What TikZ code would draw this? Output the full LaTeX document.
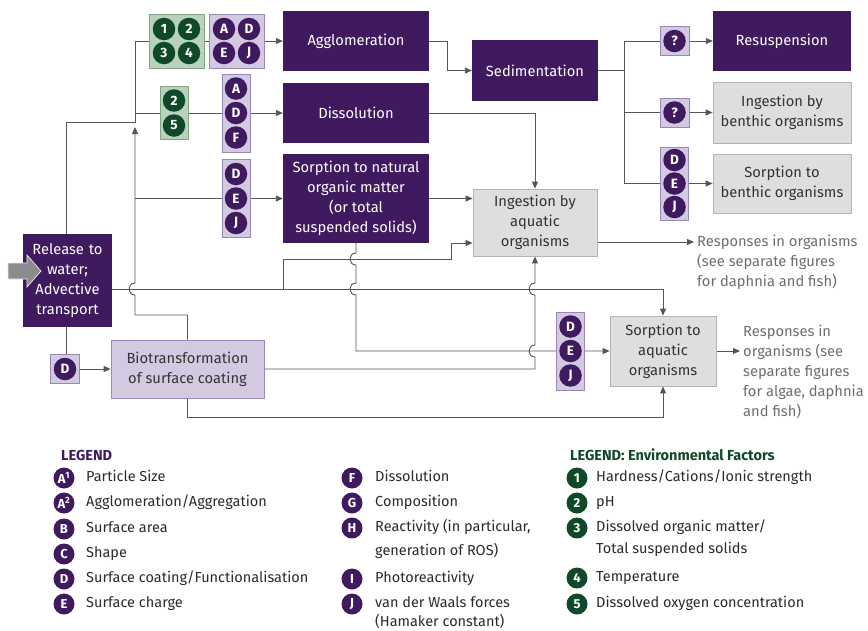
\documentclass[tikz,border=0pt]{standalone}
\usepackage{fontspec}
\setmainfont{Fira Sans}
\usetikzlibrary{arrows.meta}

\definecolor{dpurple}{HTML}{3F1A5E}
\definecolor{lpurple}{HTML}{D3CAE2}
\definecolor{lpurpleedge}{HTML}{9A87B8}
\definecolor{dgreen}{HTML}{10492A}
\definecolor{lgreen}{HTML}{B8D2BC}
\definecolor{lgreenedge}{HTML}{7FA585}
\definecolor{boxgray}{HTML}{DEDEDE}
\definecolor{boxedge}{HTML}{B4B4B4}
\definecolor{boxtext}{HTML}{333333}
\definecolor{linegray}{HTML}{555555}
\definecolor{respgray}{HTML}{6E6E6E}
\definecolor{legtext}{HTML}{2B2B2B}
\definecolor{feedgray}{HTML}{8C8C8C}

\newcommand\bxfont{\fontsize{14.7}{20}\selectfont}
\newcommand\bdgfont{\fontsize{13.5}{14}\selectfont\bfseries}
\newcommand\lbdgfont{\fontsize{13}{14}\selectfont\bfseries}
\newcommand\lgfont{\fontsize{14.5}{16}\selectfont}

\pgfdeclarelayer{base}
\pgfdeclarelayer{wires}
\pgfsetlayers{base,wires,main}

\tikzset{
  conn/.style={draw=linegray, line width=0.9pt},
  arr/.style={-{Triangle[length=7pt,width=6pt]}},
  pbox/.style={rectangle, fill=dpurple, text=white, align=center, inner sep=0pt, font=\bxfont},
  gbox/.style={rectangle, fill=boxgray, draw=boxedge, line width=0.8pt, text=boxtext, align=center, inner sep=0pt, font=\bxfont},
  lbox/.style={rectangle, fill=lpurple, draw=lpurpleedge, line width=0.8pt, text=boxtext, align=center, inner sep=0pt, font=\bxfont},
  pbg/.style={rectangle, fill=lpurple, draw=lpurpleedge, line width=0.8pt, inner sep=0pt},
  gbg/.style={rectangle, fill=lgreen, draw=lgreenedge, line width=0.8pt, inner sep=0pt},
  pc/.style={circle, fill=dpurple, text=white, minimum size=22.5pt, inner sep=0pt, font=\bdgfont},
  gc/.style={circle, fill=dgreen, text=white, minimum size=22.5pt, inner sep=0pt, font=\bdgfont},
  lpc/.style={pc, minimum size=21pt, font=\lbdgfont},
  lgc/.style={gc, minimum size=21pt, font=\lbdgfont},
  ltext/.style={anchor=west, inner sep=0pt, font=\lgfont, text=legtext, text height=10.5pt, text depth=3pt},
  resptext/.style={anchor=west, inner sep=0pt, align=left, font=\bxfont, text=respgray},
}

\begin{document}
\begin{tikzpicture}[x=1pt, y=-1pt]
\useasboundingbox (0,0) rectangle (868,630);
\begin{pgfonlayer}{base}
  \fill[white] (0,0) rectangle (868,630);
\end{pgfonlayer}

% ---------- process boxes ----------
\node[pbox, minimum width=89pt, minimum height=93pt, text width=89pt, xshift=1.5pt] (rel) at (66,280.5) {Release to\\water;\\Advective\\transport};
\node[pbox, minimum width=146pt, minimum height=60pt] (agg) at (356,41) {Agglomeration};
\node[pbox, minimum width=146pt, minimum height=60pt] (dis) at (356,113) {Dissolution};
\node[pbox, minimum width=146pt, minimum height=89pt] (snom) at (356,198.5) {Sorption to natural\\organic matter\\(or total\\suspended solids)};
\node[pbox, minimum width=126pt, minimum height=61pt] (sed) at (535,70.5) {Sedimentation};
\node[pbox, minimum width=138pt, minimum height=60pt] (res) at (782,41) {Resuspension};

\node[gbox, minimum width=124pt, minimum height=67pt] (ingaq) at (535,222.5) {Ingestion by\\aquatic\\organisms};
\node[gbox, minimum width=138pt, minimum height=61pt] (ingben) at (782,112.5) {Ingestion by\\benthic organisms};
\node[gbox, minimum width=138pt, minimum height=59pt] (sorben) at (782,183.5) {Sorption to\\benthic organisms};
\node[gbox, minimum width=106pt, minimum height=70pt] (soraq) at (663,351) {Sorption to\\aquatic\\organisms};

\node[lbox, minimum width=153pt, minimum height=58pt] (bio) at (187.5,369) {Biotransformation\\of surface coating};

% feed arrow into the release box
\draw[fill=feedgray, draw=white!85!gray, line width=0.7pt]
  (8,263) -- (27,263) -- (27,255) -- (41,271) -- (27,287) -- (27,279) -- (8,279) -- cycle;

% ---------- factor badges ----------
\node[gbg, minimum width=55pt, minimum height=54pt] (gA) at (176.5,41) {};
\node[gc] (gA1) at (164,29) {1};
\node[gc] (gA2) at (189,29) {2};
\node[gc] (gA3) at (164,53) {3};
\node[gc] (gA4) at (189,53) {4};

\node[pbg, minimum width=55pt, minimum height=54pt] (pA) at (236.5,41) {};
\node[pc] (pA1) at (224,29) {A};
\node[pc] (pA2) at (249,29) {D};
\node[pc] (pA3) at (224,53) {E};
\node[pc] (pA4) at (249,53) {J};

\node[gbg, minimum width=28pt, minimum height=53pt] (gB) at (174,113) {};
\node[gc] (gB1) at (174,100.5) {2};
\node[gc] (gB2) at (174,125.5) {5};

\node[pbg, minimum width=28pt, minimum height=78pt] (pB) at (236,113) {};
\node[pc] (pB1) at (236,88.5) {A};
\node[pc] (pB2) at (236,113) {D};
\node[pc] (pB3) at (236,137.5) {F};

\node[pbg, minimum width=28pt, minimum height=78pt] (pC) at (236,198.5) {};
\node[pc] (pC1) at (236,174) {D};
\node[pc] (pC2) at (236,198.5) {E};
\node[pc] (pC3) at (236,223) {J};

\node[pbg, minimum width=29pt, minimum height=29pt] (q1) at (674.5,41) {};
\node[pc] (q1c) at (674.5,41) {?};
\node[pbg, minimum width=29pt, minimum height=29pt] (q2) at (674.5,112.5) {};
\node[pc] (q2c) at (674.5,112.5) {?};

\node[pbg, minimum width=28pt, minimum height=73pt] (pD) at (674.5,183.5) {};
\node[pc] (pD1) at (674.5,160) {D};
\node[pc] (pD2) at (674.5,183.5) {E};
\node[pc] (pD3) at (674.5,207) {J};

\node[pbg, minimum width=28pt, minimum height=78pt] (pE) at (570.5,351) {};
\node[pc] (pE1) at (570.5,326.5) {D};
\node[pc] (pE2) at (570.5,351) {E};
\node[pc] (pE3) at (570.5,375.5) {J};

\node[pbg, minimum width=29pt, minimum height=29pt] (pF) at (65,369) {};
\node[pc] (pF1) at (65,369) {D};

% ---------- response notes ----------
\node[resptext] (resp1) at (697,262) {Responses in organisms\\(see separate figures\\for daphnia and fish)};
\node[resptext] (resp2) at (743,372) {Responses in\\organisms (see\\separate figures\\for algae, daphnia\\and fish)};
\coordinate (e1) at (694,242);
\coordinate (e2) at (740,351);

% ---------- junction points ----------
\coordinate (j1) at (135,122);
\coordinate (j2) at (135,113);
\coordinate (j3) at (135,315);
\coordinate (j4) at (135,198.5);
\coordinate (r0) at (112,289);
\coordinate (b1) at (283,289);
\coordinate (b2) at (451,259);
\coordinate (s0) at (624,70.5);
\coordinate (bb) at (187.5,417);
\coordinate (rt) at (66,234);
\coordinate (rb) at (66,327);

% ---------- connectors ----------
\begin{pgfonlayer}{wires}
  % release -> agglomeration / dissolution
  \draw[conn, arr] (rt) |- (j1) |- (agg.west);
  \draw[conn, arr] (j2) -- (dis.west);
  % biotransformation -> back into the water column, and to sorption to NOM
  \draw[conn, arr] (bio.north) |- (j3) -- (135,295)
    .. controls (127,295) and (127,283) .. (135,283) -- (135,127);
  \draw[conn, arr] (j4) -- (snom.west);
  % release -> sorption to aquatic organisms, and ingestion by aquatic organisms
  \draw[conn, arr] (r0) -| (soraq.north);
  \draw[conn, arr] (b1) |- (b2) |- ([yshift=-20.5pt]ingaq.west);
  % release -> surface coating -> biotransformation
  \draw[conn] (rb) -- (rb |- pF.north);
  \draw[conn, arr] (pF.east) -- (bio.west);
  % agglomeration -> sedimentation
  \draw[conn, arr] (agg.east) -- ++(18,0) |- (sed.west);
  % dissolution / sorption to NOM -> ingestion by aquatic organisms
  \draw[conn, arr] (dis.east) -| (ingaq.north);
  \draw[conn, arr] (snom.east) -- (snom.east -| ingaq.west);
  % sedimentation -> benthic fates
  \draw[conn] (sed.east) -- (s0);
  \draw[conn, arr] (s0) |- (res.west);
  \draw[conn, arr] (s0) |- (ingben.west);
  \draw[conn, arr] (s0) |- (sorben.west);
  % sorption to NOM -> sorption to aquatic organisms
  \draw[conn, arr] (snom.south) -- (356,253)
    .. controls (348,253) and (348,265) .. (356,265) -- (356,283)
    .. controls (348,283) and (348,295) .. (356,295) -- (356,351) -- (soraq.west);
  % biotransformation -> ingestion by aquatic organisms
  \draw[conn, arr] (bio.east) -- (535,369) -- (535,357)
    .. controls (527,357) and (527,345) .. (535,345) -- (535,295)
    .. controls (527,295) and (527,283) .. (535,283) -- (ingaq.south);
  % biotransformation -> sorption to aquatic organisms
  \draw[conn, arr] (bio.south) -- (bb) -| (soraq.south);
  % organisms -> responses
  \draw[conn, arr] ([yshift=-19.5pt]ingaq.east) -- (e1);
  \draw[conn, arr] (soraq.east) -- (e2);
\end{pgfonlayer}

% ---------- legend: nanomaterial properties ----------
\node[anchor=west, inner sep=0pt, font=\fontsize{14.5}{16}\selectfont\bfseries, text=dpurple] (leg1) at (61,455) {LEGEND};
\node[lpc] (lA1) at (64,478) {A\textsuperscript{1}};
\node[ltext] (tA1) at (86,478) {Particle Size};
\node[lpc] (lA2) at (64,503) {A\textsuperscript{2}};
\node[ltext] (tA2) at (86,503) {Agglomeration/Aggregation};
\node[lpc] (lB) at (64,529) {B};
\node[ltext] (tB) at (86,529) {Surface area};
\node[lpc] (lC) at (64,554) {C};
\node[ltext] (tC) at (86,554) {Shape};
\node[lpc] (lD) at (64,579) {D};
\node[ltext] (tD) at (86,579) {Surface coating/Functionalisation};
\node[lpc] (lE) at (64,604) {E};
\node[ltext] (tE) at (86,604) {Surface charge};

\node[lpc] (lF) at (352,478) {F};
\node[ltext] (tF) at (375,478) {Dissolution};
\node[lpc] (lG) at (352,503) {G};
\node[ltext] (tG) at (375,503) {Composition};
\node[lpc] (lH) at (352,528) {H};
\node[ltext] (tH) at (375,528) {Reactivity (in particular,};
\node[ltext] (tH2) at (375,552) {generation of ROS)};
\node[lpc] (lI) at (352,579) {I};
\node[ltext] (tI) at (375,579) {Photoreactivity};
\node[lpc] (lJ) at (352,604) {J};
\node[ltext] (tJ) at (375,604) {van der Waals forces};
\node[ltext] (tJ2) at (375,623) {(Hamaker constant)};

% ---------- legend: environmental factors ----------
\node[anchor=west, inner sep=0pt, font=\fontsize{14.5}{16}\selectfont\bfseries, text=dgreen] (leg2) at (570,455) {LEGEND: Environmental Factors};
\node[lgc] (l1) at (577,478) {1};
\node[ltext] (t1) at (596,478) {Hardness/Cations/Ionic strength};
\node[lgc] (l2) at (577,503) {2};
\node[ltext] (t2) at (596,503) {pH};
\node[lgc] (l3) at (577,528) {3};
\node[ltext] (t3) at (596,528) {Dissolved organic matter/};
\node[ltext] (t3b) at (596,550) {Total suspended solids};
\node[lgc] (l4) at (577,578) {4};
\node[ltext] (t4) at (596,578) {Temperature};
\node[lgc] (l5) at (577,604) {5};
\node[ltext] (t5) at (596,604) {Dissolved oxygen concentration};
\end{tikzpicture}
\end{document}
